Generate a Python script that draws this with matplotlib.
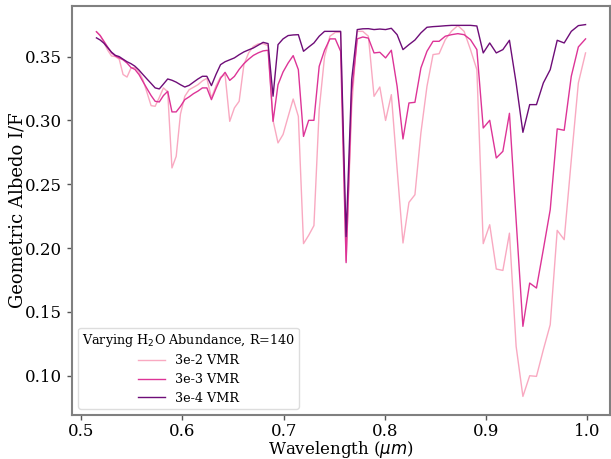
import matplotlib
matplotlib.use("Agg")
import matplotlib.pyplot as plt

plt.rcParams['font.family'] = ['DejaVu Serif']
plt.rcParams['mathtext.fontset'] = 'dejavusans'

wavelength = [
    0.5150, 0.5187, 0.5224, 0.5261, 0.5299, 0.5337, 0.5375, 0.5413, 0.5452, 0.5491,
    0.5530, 0.5570, 0.5609, 0.5649, 0.5690, 0.5730, 0.5771, 0.5812, 0.5854, 0.5896,
    0.5938, 0.5980, 0.6023, 0.6066, 0.6109, 0.6153, 0.6197, 0.6241, 0.6286, 0.6331,
    0.6376, 0.6421, 0.6467, 0.6513, 0.6560, 0.6607, 0.6654, 0.6701, 0.6749, 0.6797,
    0.6846, 0.6895, 0.6944, 0.6994, 0.7044, 0.7094, 0.7145, 0.7196, 0.7247, 0.7299,
    0.7351, 0.7404, 0.7457, 0.7510, 0.7563, 0.7617, 0.7672, 0.7727, 0.7782, 0.7837,
    0.7893, 0.7950, 0.8007, 0.8064, 0.8121, 0.8179, 0.8238, 0.8297, 0.8356, 0.8416,
    0.8476, 0.8536, 0.8597, 0.8659, 0.8721, 0.8783, 0.8846, 0.8909, 0.8972, 0.9036,
    0.9101, 0.9166, 0.9231, 0.9297, 0.9364, 0.9431, 0.9498, 0.9566, 0.9634, 0.9703,
    0.9772, 0.9842, 0.9912, 0.9983,
]

vmr_3e2 = [
    0.3695, 0.3665, 0.3610, 0.3550, 0.3505, 0.3500, 0.3480, 0.3360, 0.3340, 0.3410,
    0.3415, 0.3380, 0.3320, 0.3220, 0.3116, 0.3111, 0.3180, 0.3255, 0.3225, 0.2628,
    0.2719, 0.3050, 0.3189, 0.3241, 0.3260, 0.3280, 0.3310, 0.3330, 0.3176, 0.3270,
    0.3340, 0.3359, 0.2993, 0.3098, 0.3150, 0.3437, 0.3530, 0.3580, 0.3600, 0.3602,
    0.3586, 0.3000, 0.2824, 0.2890, 0.3030, 0.3168, 0.3032, 0.2035, 0.2100, 0.2176,
    0.3085, 0.3500, 0.3660, 0.3690, 0.3690, 0.1900, 0.3100, 0.3698, 0.3698, 0.3660,
    0.3189, 0.3262, 0.3000, 0.3202, 0.2620, 0.2040, 0.2358, 0.2418, 0.2902, 0.3267,
    0.3516, 0.3523, 0.3633, 0.3700, 0.3743, 0.3698, 0.3555, 0.3398, 0.2035, 0.2183,
    0.1836, 0.1825, 0.2117, 0.1230, 0.0838, 0.1000, 0.0995, 0.1204, 0.1400, 0.2139,
    0.2066, 0.2690, 0.3294, 0.3529,
]

vmr_3e3 = [
    0.3695, 0.3665, 0.3620, 0.3575, 0.3530, 0.3505, 0.3490, 0.3475, 0.3450, 0.3415,
    0.3400, 0.3360, 0.3305, 0.3250, 0.3195, 0.3150, 0.3145, 0.3195, 0.3228, 0.3067,
    0.3067, 0.3110, 0.3163, 0.3185, 0.3210, 0.3230, 0.3255, 0.3255, 0.3163, 0.3250,
    0.3330, 0.3377, 0.3314, 0.3345, 0.3400, 0.3445, 0.3480, 0.3510, 0.3530, 0.3545,
    0.3550, 0.2993, 0.3280, 0.3380, 0.3450, 0.3508, 0.3398, 0.2875, 0.3001, 0.3001,
    0.3424, 0.3550, 0.3639, 0.3639, 0.3542, 0.1886, 0.3220, 0.3639, 0.3654, 0.3645,
    0.3529, 0.3534, 0.3490, 0.3550, 0.3267, 0.2855, 0.3137, 0.3142, 0.3411, 0.3542,
    0.3620, 0.3620, 0.3660, 0.3672, 0.3680, 0.3672, 0.3633, 0.3555, 0.2941, 0.3001,
    0.2706, 0.2758, 0.3056, 0.2220, 0.1387, 0.1726, 0.1687, 0.1990, 0.2301, 0.2934,
    0.2923, 0.3346, 0.3576, 0.3639,
]

vmr_3e4 = [
    0.3647, 0.3630, 0.3605, 0.3570, 0.3535, 0.3510, 0.3500, 0.3480, 0.3460, 0.3445,
    0.3425, 0.3395, 0.3360, 0.3325, 0.3290, 0.3255, 0.3247, 0.3285, 0.3325, 0.3315,
    0.3300, 0.3280, 0.3262, 0.3275, 0.3300, 0.3325, 0.3346, 0.3346, 0.3273, 0.3360,
    0.3437, 0.3460, 0.3475, 0.3490, 0.3515, 0.3537, 0.3553, 0.3568, 0.3590, 0.3612,
    0.3602, 0.3190, 0.3594, 0.3639, 0.3665, 0.3670, 0.3672, 0.3542, 0.3575, 0.3607,
    0.3660, 0.3698, 0.3698, 0.3698, 0.3698, 0.2090, 0.3320, 0.3712, 0.3718, 0.3719,
    0.3712, 0.3716, 0.3712, 0.3722, 0.3672, 0.3555, 0.3594, 0.3630, 0.3686, 0.3730,
    0.3735, 0.3738, 0.3742, 0.3745, 0.3745, 0.3745, 0.3745, 0.3740, 0.3529, 0.3607,
    0.3529, 0.3555, 0.3628, 0.3294, 0.2907, 0.3124, 0.3124, 0.3294, 0.3398, 0.3628,
    0.3607, 0.3698, 0.3743, 0.3751,
]

labels = ['3e-2 VMR', '3e-3 VMR', '3e-4 VMR']
colors = ['#f9a9c1', '#dd3497', '#6e0d78']
series = [vmr_3e2, vmr_3e3, vmr_3e4]

fig = plt.figure(figsize=(6.11, 4.59), dpi=100)
ax = fig.add_axes([72/611, 1 - 415/459, 538/611, 409/459])

for s, c, l in zip(series, colors, labels):
    ax.plot(wavelength, s, color=c, lw=1.0, label=l)

ax.set_xlabel(r'Wavelength ($\mu m$)', fontsize=12)
ax.set_ylabel('Geometric Albedo I/F', fontsize=13)
ax.xaxis.set_label_coords(0.5, (415 - 439.5) / 409)
ax.yaxis.set_label_coords((27 - 72) / 538, 0.5)
ax.set_xticks([0.5, 0.6, 0.7, 0.8, 0.9, 1.0])
ax.set_yticks([0.10, 0.15, 0.20, 0.25, 0.30, 0.35])
ax.tick_params(labelsize=12, labelcolor='black', length=3.5, width=1,
               direction='out', color='#555555')
ax.tick_params(axis='x', pad=2.0)
for sp in ax.spines.values():
    sp.set_color('#808080')
    sp.set_linewidth(1.5)

leg = ax.legend(loc='lower left', title=r'Varying H$_2$O Abundance, R=140',
                fontsize=9.2, title_fontsize=9.2, framealpha=1.0,
                handlelength=2.1, borderpad=0.3, labelspacing=0.45)
leg.get_frame().set_edgecolor('#dddddd')

fig.savefig('out.png', dpi=100)
